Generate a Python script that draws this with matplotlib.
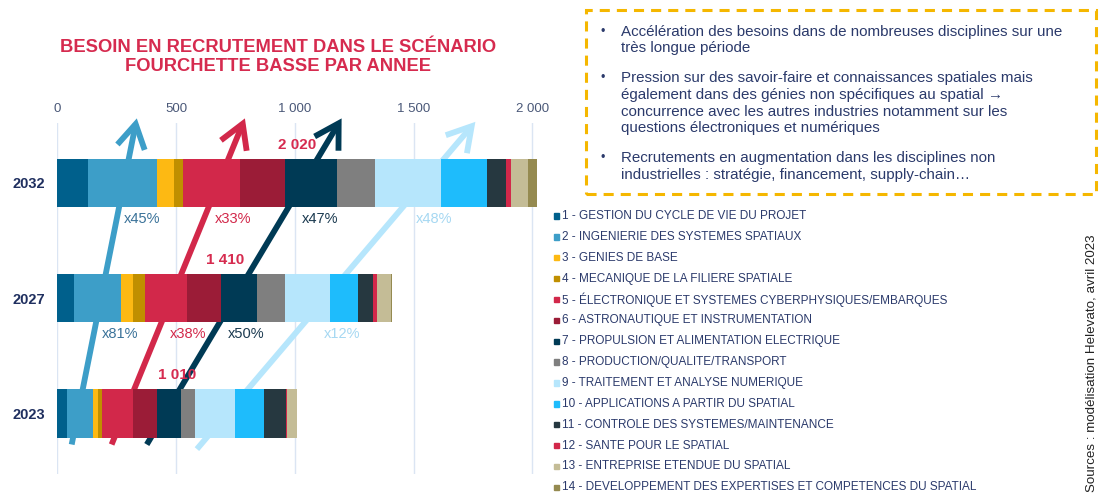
import matplotlib.pyplot as plt
from matplotlib.patches import Rectangle, FancyArrowPatch, ArrowStyle

plt.rcParams['font.family'] = ['Liberation Sans', 'DejaVu Sans']

# data
years = ['2023', '2027', '2032']
categories = [
    '1 - GESTION DU CYCLE DE VIE DU PROJET',
    '2 - INGENIERIE DES SYSTEMES SPATIAUX',
    '3 - GENIES DE BASE',
    '4 - MECANIQUE DE LA FILIERE SPATIALE',
    '5 - ÉLECTRONIQUE ET SYSTEMES CYBERPHYSIQUES/EMBARQUES',
    '6 - ASTRONAUTIQUE ET INSTRUMENTATION',
    '7 - PROPULSION ET ALIMENTATION ELECTRIQUE',
    '8 - PRODUCTION/QUALITE/TRANSPORT',
    '9 - TRAITEMENT ET ANALYSE NUMERIQUE',
    '10 - APPLICATIONS A PARTIR DU SPATIAL',
    '11 - CONTROLE DES SYSTEMES/MAINTENANCE',
    '12 - SANTE POUR LE SPATIAL',
    '13 - ENTREPRISE ETENDUE DU SPATIAL',
    '14 - DEVELOPPEMENT DES EXPERTISES ET COMPETENCES DU SPATIAL',
]
colors = ['#00608c', '#3d9ec8', '#fdb913', '#c08f00', '#d2284a', '#9b1c37',
          '#003a55', '#7f7f7f', '#b6e6fc', '#1ebcfc', '#263840', '#d2284a',
          '#c4bc96', '#958a50']
v2023 = [40, 110, 20, 20, 130, 100, 100, 59, 171, 120, 95, 4, 39, 2]
v2027 = [70, 200, 50, 49, 179, 142, 150, 120, 188, 120, 60, 18, 60, 4]
v2032 = [128, 292, 70, 38, 242, 190, 218, 160, 279, 191, 79, 21, 75, 37]
values = [v2023, v2027, v2032]
totals = [1010, 1410, 2020]
total_labels = ['1 010', '1 410', '2 020']

# growth labels under the bars (2027 vs 2023, 2032 vs 2027)
pct_2027 = ['x81%', 'x38%', 'x50%', 'x12%']
pct_x_2027 = [263, 550, 795, 1199]
pct_2032 = ['x45%', 'x33%', 'x47%', 'x48%']
pct_x_2032 = [356, 740, 1106, 1588]
pct_colors = ['#3a7299', '#d2284a', '#1b3a50', '#a6d8f2']
arrow_colors = ['#3d9ec8', '#d2284a', '#003a55', '#b6e6fc']
arrow_tails = [(61, -0.27), (229, -0.27), (377, -0.27), (588, -0.31)]
arrow_tips = [(335, 2.56), (790, 2.56), (1197, 2.56), (1760, 2.53)]

ticks = [0, 500, 1000, 1500, 2000]
tick_labels = ['0', '500', '1 000', '1 500', '2 000']

bullets = [
    ['Accélération des besoins dans de nombreuses disciplines sur une',
     'très longue période'],
    ['Pression sur des savoir-faire et connaissances spatiales mais',
     'également dans des génies non spécifiques au spatial \u2192',
     'concurrence avec les autres industries notamment sur les',
     'questions électroniques et numériques'],
    ['Recrutements en augmentation dans les disciplines non',
     'industrielles : stratégie, financement, supply-chain\u2026'],
]

W, H = 1103, 494
navy = '#2b3a6b'
red = '#d62b4f'


def fx(px):
    return px / W


def fy(py):
    return 1 - py / H


fig = plt.figure(figsize=(W / 100, H / 100), dpi=100)
ax = fig.add_axes([fx(57.2), fy(474), fx(545) - fx(57.2), fy(123) - fy(474)])

bar_h = 0.42
for i, row in enumerate(values):
    left = 0
    for v, c in zip(row, colors):
        ax.barh(i, v, left=left, height=bar_h, color=c, zorder=3)
        left += v
    ax.text(totals[i] / 2, i + bar_h / 2 + 0.06, total_labels[i], color=red,
            fontsize=11, fontweight='bold', ha='center', va='bottom', zorder=4)

for lab, x, c in zip(pct_2027, pct_x_2027, pct_colors):
    ax.text(x, 1 - 0.31, lab, color=c, fontsize=10.5, ha='center', va='center', zorder=4)
for lab, x, c in zip(pct_2032, pct_x_2032, pct_colors):
    ax.text(x, 2 - 0.31, lab, color=c, fontsize=10.5, ha='center', va='center', zorder=4)

for tail, tip, c in zip(arrow_tails, arrow_tips, arrow_colors):
    arr = FancyArrowPatch(tail, tip, transform=ax.transData,
                          arrowstyle=ArrowStyle('->', head_length=0.85, head_width=0.5),
                          mutation_scale=20, linewidth=4.2, color=c,
                          shrinkA=0, shrinkB=0, clip_on=False, zorder=2,
                          capstyle='butt', joinstyle='miter')
    ax.add_patch(arr)

ax.set_xlim(0, 2053)
ax.set_ylim(-0.526, 2.52)
ax.xaxis.tick_top()
ax.set_xticks(ticks, tick_labels)
ax.set_yticks([0, 1, 2], years)
ax.tick_params(axis='x', length=0, pad=6, labelsize=9.5, labelcolor='#4a5878')
ax.tick_params(axis='y', length=0, pad=9, labelsize=10.5, labelcolor='#1f2f5f')
for t in ax.get_yticklabels():
    t.set_fontweight('bold')
ax.grid(axis='x', color='#dbe5f3', linewidth=1, zorder=0)
ax.set_axisbelow(True)
for s in ax.spines.values():
    s.set_visible(False)

fig.text(fx(278), fy(57), 'BESOIN EN RECRUTEMENT DANS LE SCÉNARIO\nFOURCHETTE BASSE PAR ANNEE',
         color=red, fontsize=13.2, fontweight='bold', ha='center', va='center',
         linespacing=1.15)

# legend
for k, (lab, c) in enumerate(zip(categories, colors)):
    y = 216 + k * 20.87
    fig.add_artist(Rectangle((fx(553.5), fy(y + 2.7)), 5.4 / W, 5.4 / H,
                             transform=fig.transFigure, color=c))
    fig.text(fx(561.5), fy(y), lab, color=navy, fontsize=8.5, ha='left', va='center')

# dashed comment box
fig.add_artist(Rectangle((fx(586), fy(194)), (1096 - 586) / W, (194 - 10) / H,
                         transform=fig.transFigure, fill=False, edgecolor='#f5b700',
                         linewidth=2.2, linestyle=(0, (3.3, 2.3))))
y = 31.7
for para in bullets:
    fig.text(fx(600.7), fy(y), '\u2022', color=navy, fontsize=9, ha='left', va='center')
    for line in para:
        fig.text(fx(620.7), fy(y), line, color=navy, fontsize=10.9, ha='left', va='center')
        y += 16.7
    y += 13

fig.text(fx(1092), fy(363), 'Sources : modélisation Helevato, avril 2023', color='#222222',
         fontsize=9.6, rotation=90, ha='center', va='center')

fig.savefig('out.png', dpi=100, facecolor='white')
